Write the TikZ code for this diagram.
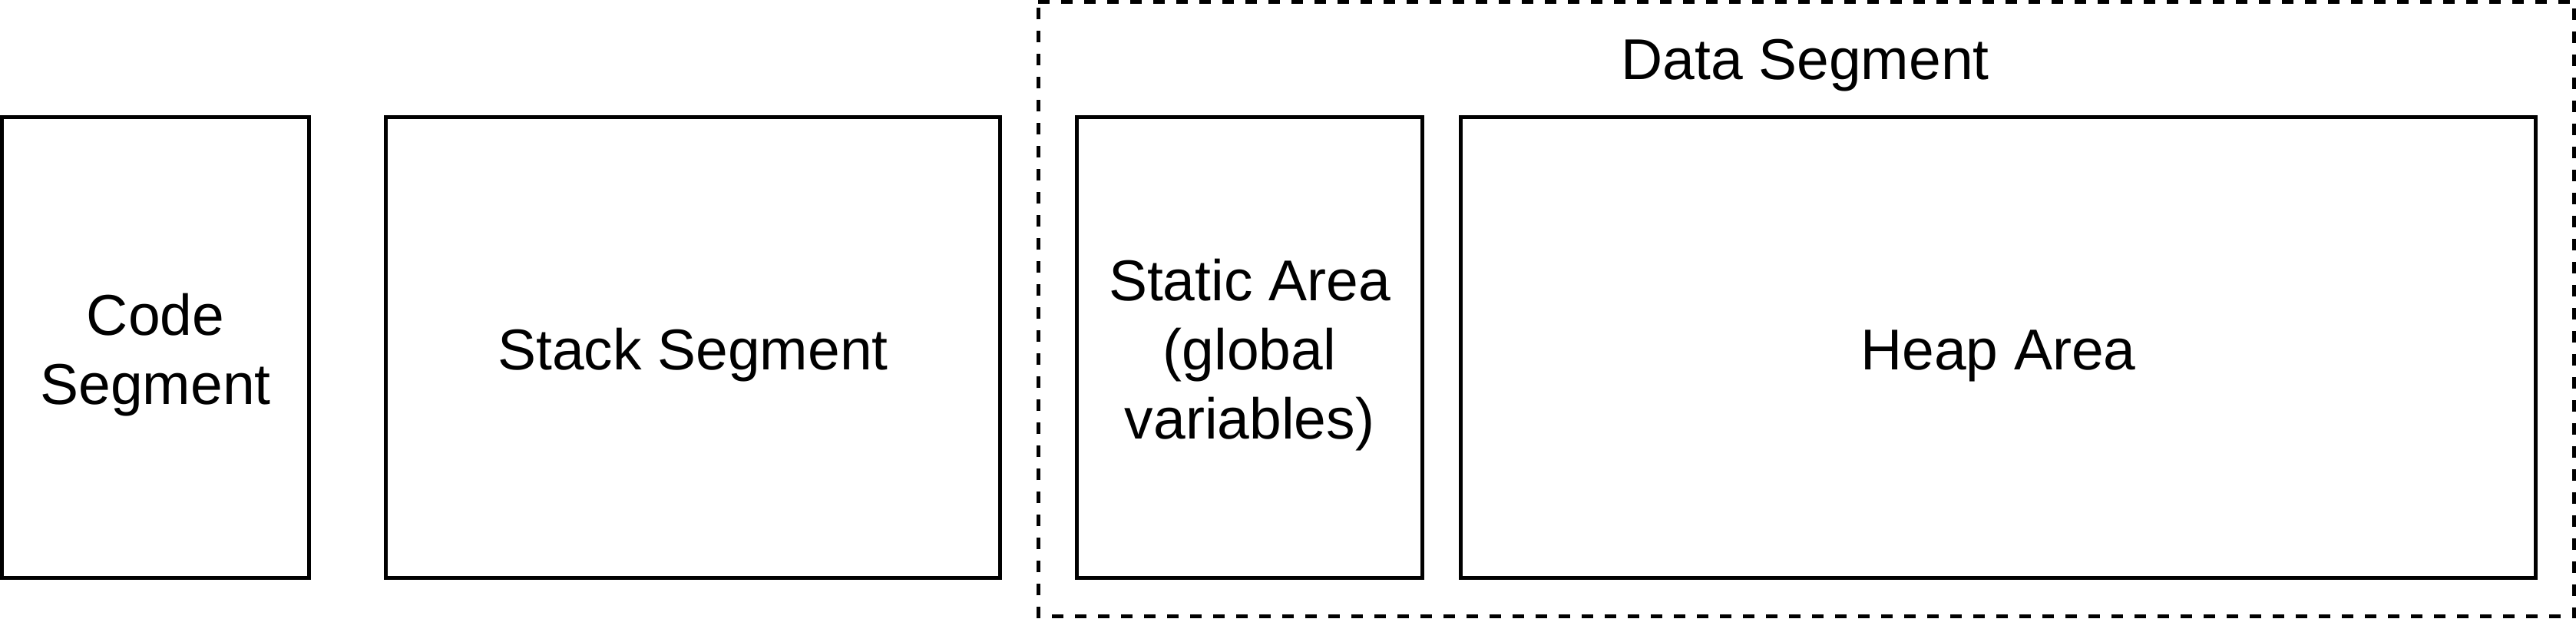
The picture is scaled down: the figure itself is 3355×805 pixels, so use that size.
\documentclass[tikz,border=0pt]{standalone}
\usepackage{fontspec}
\setmainfont{Liberation Sans}
\newcommand\lstr{\rule[-8.25pt]{0pt}{45pt}}
\begin{document}
\begin{tikzpicture}[x=0.5pt,y=-0.5pt,
  txt/.style={inner sep=0pt, align=center, font=\fontsize{37.5}{45}\selectfont},
  seg/.style={txt, draw=black, line width=2.5pt, minimum height=300pt},
  cont/.style={inner sep=0pt, minimum width=1000pt, minimum height=400pt},
  contline/.style={draw=black, line width=2.5pt, dash pattern=on 7.5pt off 7.5pt}]
\useasboundingbox (0,0) rectangle (3355,805);
% container for the data segment
\node[cont] (data) at (2352.5,402.5) {};
\draw[contline] (data.north west) -- (data.north east) -- (data.south east) -- (data.south west) -- cycle;
\node[txt] (datalbl) at (2351,74.5) {\lstr Data Segment};
% segments
\node[seg, minimum width=200pt] (code) at (202.5,452.5) {\lstr Code\\\lstr Segment};
\node[seg, minimum width=400pt] (stack) at (902.5,452.5) {\lstr Stack Segment};
\node[seg, minimum width=225pt] (static) at (1627.5,452.5) {\lstr Static Area\\\lstr (global\\\lstr variables)};
\node[seg, minimum width=700pt] (heap) at (2602.5,452.5) {\lstr Heap Area};
\end{tikzpicture}
\end{document}
